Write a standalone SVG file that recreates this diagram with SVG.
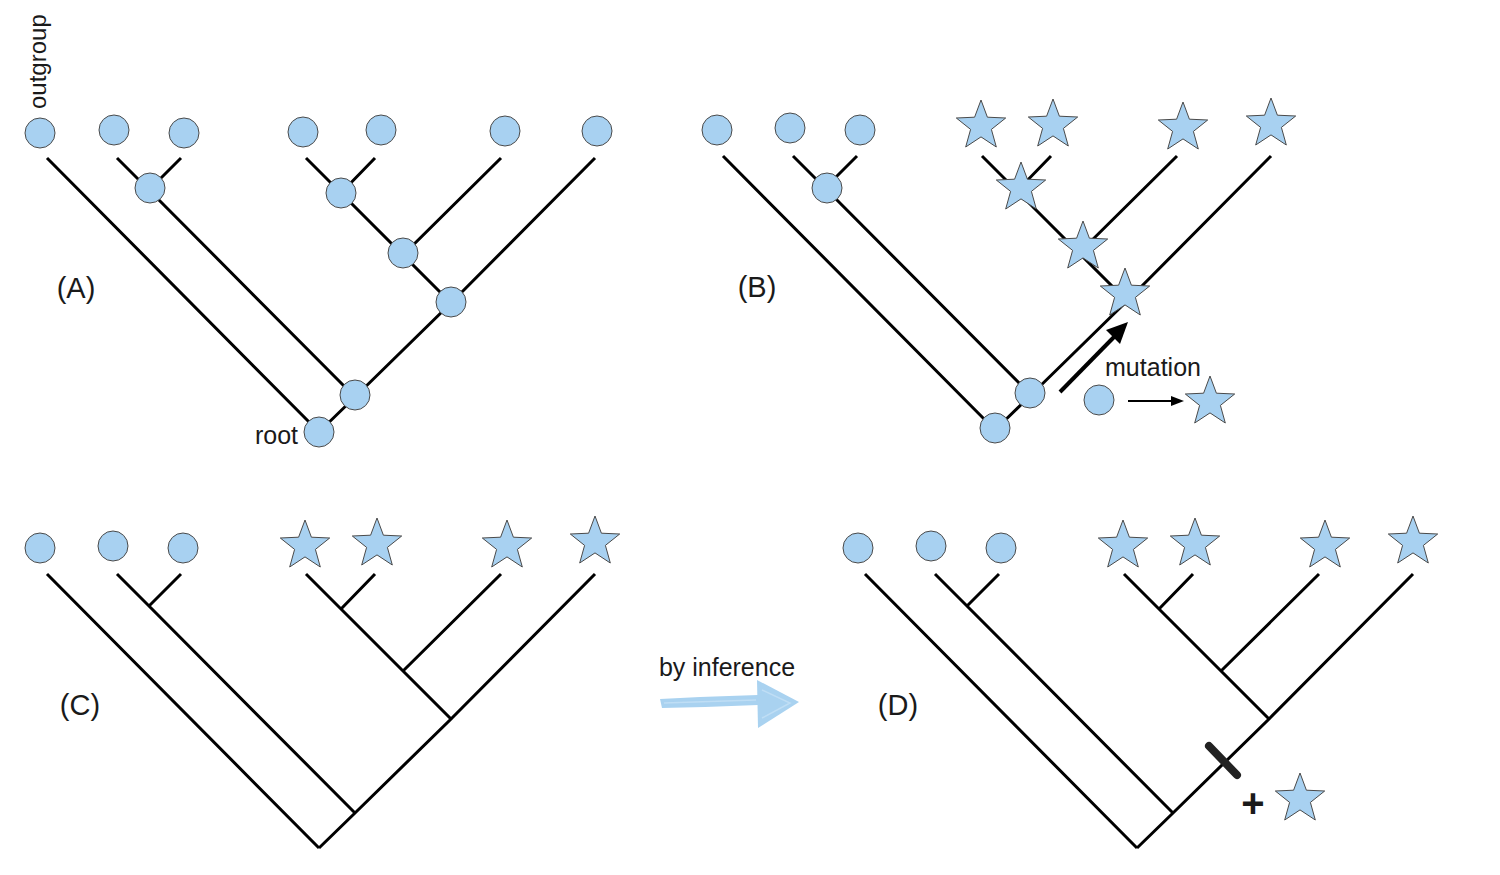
<svg xmlns="http://www.w3.org/2000/svg" xmlns:xlink="http://www.w3.org/1999/xlink" width="1500" height="875" viewBox="0 0 1500 875">
<style>
.br{fill:none;stroke:#000;stroke-width:3;stroke-linecap:butt;stroke-linejoin:miter}
.c{fill:#a8d1f1;stroke:#4a4a4a;stroke-width:1}
.lbl{font-family:"Liberation Sans",Arial,sans-serif;fill:#1a1a1a}
</style>
<defs>
<polygon id="star" points="0,-26 6.4,-8.8 24.7,-8 10.4,3.4 15.3,21 0,10.9 -15.3,21 -10.4,3.4 -24.7,-8 -6.4,-8.8" fill="#a8d1f1" stroke="#4a4a4a" stroke-width="1"/>
<path id="tree" d="M47,158 L319,432 M117,158 L149,190 L355,397 M181,158 L149,190 M306,158 L341,193 L451,303 L355,397 L319,432 M375,158 L341,193 M501,158 L403,255 M595,158 L451,303"/>
</defs>
<rect width="1500" height="875" fill="#fff"/>

<g id="connectors">
  <use xlink:href="#tree" href="#tree" class="br" transform="translate(0,0)"/>
  <use xlink:href="#tree" href="#tree" class="br" transform="translate(676,-2)"/>
  <use xlink:href="#tree" href="#tree" class="br" transform="translate(0,416)"/>
  <use xlink:href="#tree" href="#tree" class="br" transform="translate(818,416)"/>
  <g id="mutation-arrow">
    <line x1="1060" y1="392" x2="1114" y2="337" stroke="#000" stroke-width="4"/>
    <polygon points="1128,322 1120,344 1106,330" fill="#000"/>
  </g>
  <g id="small-arrow">
    <line x1="1128" y1="401" x2="1172" y2="401" stroke="#000" stroke-width="2"/>
    <polygon points="1184,401 1171,396 1171,406" fill="#000"/>
  </g>
  <g id="inference-arrow" fill="#a9d2f0">
    <polygon points="660,699 700,697 758,695 758,705 705,707 662,708"/>
    <polygon points="757,680 799,702 758,728"/>
    <path d="M664,703 L756,700 M762,690 L790,703 L762,718" stroke="#c9e3f6" stroke-width="1.5" fill="none" opacity="0.7"/>
  </g>
  <line id="synapomorphy-bar" x1="1209" y1="746" x2="1237" y2="775" stroke="#222" stroke-width="8" stroke-linecap="round"/>
</g>

<g id="panelA">
  <g id="A-outgroup"><circle class="c" cx="40" cy="133" r="15"/></g>
  <g id="A-leaf2"><circle class="c" cx="114" cy="130" r="15"/></g>
  <g id="A-leaf3"><circle class="c" cx="184" cy="133" r="15"/></g>
  <g id="A-leaf4"><circle class="c" cx="303" cy="132" r="15"/></g>
  <g id="A-leaf5"><circle class="c" cx="381" cy="130" r="15"/></g>
  <g id="A-leaf6"><circle class="c" cx="505" cy="131" r="15"/></g>
  <g id="A-leaf7"><circle class="c" cx="597" cy="131" r="15"/></g>
  <g id="A-n1"><circle class="c" cx="150" cy="188" r="15"/></g>
  <g id="A-n2"><circle class="c" cx="341" cy="193" r="15"/></g>
  <g id="A-n3"><circle class="c" cx="403" cy="253" r="15"/></g>
  <g id="A-n4"><circle class="c" cx="451" cy="302" r="15"/></g>
  <g id="A-n5"><circle class="c" cx="355" cy="395" r="15"/></g>
  <g id="A-root"><circle class="c" cx="319" cy="432" r="15"/></g>
  <text class="lbl" x="76" y="298" font-size="29" text-anchor="middle">(A)</text>
  <text class="lbl" font-size="24" transform="translate(46,109) rotate(-90)">outgroup</text>
  <text class="lbl" x="298" y="444" font-size="25" text-anchor="end">root</text>
</g>

<g id="panelB">
  <g id="B-leaf1"><circle class="c" cx="717" cy="130" r="15"/></g>
  <g id="B-leaf2"><circle class="c" cx="790" cy="128" r="15"/></g>
  <g id="B-leaf3"><circle class="c" cx="860" cy="130" r="15"/></g>
  <g id="B-leaf4"><use href="#star" xlink:href="#star" x="981" y="126"/></g>
  <g id="B-leaf5"><use href="#star" xlink:href="#star" x="1053" y="125"/></g>
  <g id="B-leaf6"><use href="#star" xlink:href="#star" x="1183" y="128"/></g>
  <g id="B-leaf7"><use href="#star" xlink:href="#star" x="1271" y="124"/></g>
  <g id="B-n1"><circle class="c" cx="827" cy="188" r="15"/></g>
  <g id="B-n2"><use href="#star" xlink:href="#star" x="1021" y="188"/></g>
  <g id="B-n3"><use href="#star" xlink:href="#star" x="1083" y="247"/></g>
  <g id="B-n4"><use href="#star" xlink:href="#star" x="1125" y="294"/></g>
  <g id="B-n5"><circle class="c" cx="1030" cy="393" r="15"/></g>
  <g id="B-root"><circle class="c" cx="995" cy="428" r="15"/></g>
  <g id="B-legend-circle"><circle class="c" cx="1099" cy="400" r="15"/></g>
  <g id="B-legend-star"><use href="#star" xlink:href="#star" x="1210" y="402"/></g>
  <text class="lbl" x="757" y="297" font-size="29" text-anchor="middle">(B)</text>
  <text class="lbl" x="1153" y="376" font-size="25" text-anchor="middle">mutation</text>
</g>

<g id="panelC">
  <g id="C-leaf1"><circle class="c" cx="40" cy="548" r="15"/></g>
  <g id="C-leaf2"><circle class="c" cx="113" cy="546" r="15"/></g>
  <g id="C-leaf3"><circle class="c" cx="183" cy="548" r="15"/></g>
  <g id="C-leaf4"><use href="#star" xlink:href="#star" x="305" y="546"/></g>
  <g id="C-leaf5"><use href="#star" xlink:href="#star" x="377" y="544"/></g>
  <g id="C-leaf6"><use href="#star" xlink:href="#star" x="507" y="546"/></g>
  <g id="C-leaf7"><use href="#star" xlink:href="#star" x="595" y="542"/></g>
  <text class="lbl" x="80" y="715" font-size="29" text-anchor="middle">(C)</text>
</g>

<g id="inference">
  <text class="lbl" x="727" y="676" font-size="25" text-anchor="middle">by inference</text>
</g>

<g id="panelD">
  <g id="D-leaf1"><circle class="c" cx="858" cy="548" r="15"/></g>
  <g id="D-leaf2"><circle class="c" cx="931" cy="546" r="15"/></g>
  <g id="D-leaf3"><circle class="c" cx="1001" cy="548" r="15"/></g>
  <g id="D-leaf4"><use href="#star" xlink:href="#star" x="1123" y="546"/></g>
  <g id="D-leaf5"><use href="#star" xlink:href="#star" x="1195" y="544"/></g>
  <g id="D-leaf6"><use href="#star" xlink:href="#star" x="1325" y="546"/></g>
  <g id="D-leaf7"><use href="#star" xlink:href="#star" x="1413" y="542"/></g>
  <g id="D-gain"><use href="#star" xlink:href="#star" x="1300" y="799"/></g>
  <text class="lbl" x="898" y="715" font-size="29" text-anchor="middle">(D)</text>
  <text class="lbl" x="1253" y="817" font-size="40" font-weight="bold" text-anchor="middle">+</text>
</g>
</svg>
